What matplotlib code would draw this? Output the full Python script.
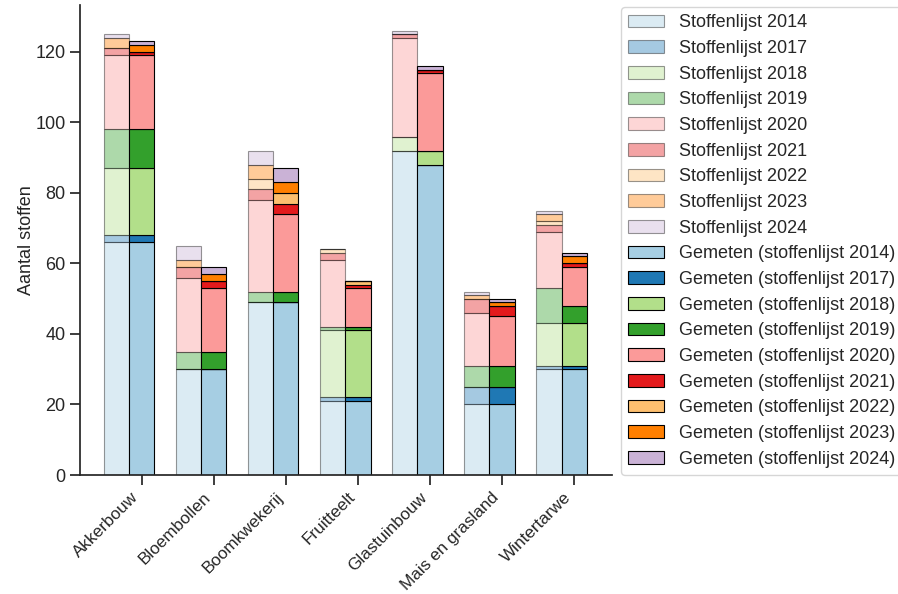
import numpy as np
import matplotlib.pyplot as plt

plt.rcParams['font.family'] = ['Liberation Sans', 'DejaVu Sans']
plt.rcParams['text.color'] = '0.15'
plt.rcParams['axes.labelcolor'] = '0.15'
plt.rcParams['axes.edgecolor'] = '0.15'
plt.rcParams['xtick.color'] = '0.15'
plt.rcParams['ytick.color'] = '0.15'

# Teelten
categories = ['Akkerbouw', 'Bloembollen', 'Boomkwekerij', 'Fruitteelt',
              'Glastuinbouw', 'Mais en grasland', 'Wintertarwe']
years = ['2014', '2017', '2018', '2019', '2020', '2021', '2022', '2023', '2024']

# Aantal stoffen per stoffenlijst (nieuw toegevoegd per jaar)
stoffenlijst_2014 = [66, 30, 49, 21, 92, 20, 30]
stoffenlijst_2017 = [2, 0, 0, 1, 0, 5, 1]
stoffenlijst_2018 = [19, 0, 0, 19, 4, 0, 12]
stoffenlijst_2019 = [11, 5, 3, 1, 0, 6, 10]
stoffenlijst_2020 = [21, 21, 26, 19, 28, 15, 16]
stoffenlijst_2021 = [2, 3, 3, 2, 1, 4, 2]
stoffenlijst_2022 = [0, 0, 3, 1, 0, 0, 1]
stoffenlijst_2023 = [3, 2, 4, 0, 0, 1, 2]
stoffenlijst_2024 = [1, 4, 4, 0, 1, 1, 1]

# Aantal gemeten stoffen per stoffenlijst
gemeten_2014 = [66, 30, 49, 21, 88, 20, 30]
gemeten_2017 = [2, 0, 0, 1, 0, 5, 1]
gemeten_2018 = [19, 0, 0, 19, 4, 0, 12]
gemeten_2019 = [11, 5, 3, 1, 0, 6, 5]
gemeten_2020 = [21, 18, 22, 11, 22, 14, 11]
gemeten_2021 = [1, 2, 3, 1, 1, 3, 1]
gemeten_2022 = [0, 0, 3, 1, 0, 0, 0]
gemeten_2023 = [2, 2, 3, 0, 0, 1, 2]
gemeten_2024 = [1, 2, 4, 0, 1, 1, 1]

stoffenlijst = [stoffenlijst_2014, stoffenlijst_2017, stoffenlijst_2018,
                stoffenlijst_2019, stoffenlijst_2020, stoffenlijst_2021,
                stoffenlijst_2022, stoffenlijst_2023, stoffenlijst_2024]
gemeten = [gemeten_2014, gemeten_2017, gemeten_2018, gemeten_2019,
           gemeten_2020, gemeten_2021, gemeten_2022, gemeten_2023,
           gemeten_2024]

colors = plt.get_cmap('Paired').colors[:9]

fig = plt.figure(figsize=(8.98, 5.94), dpi=100)
ax = fig.add_axes([0.0891, 0.2003, 0.592, 0.7913])

x = np.arange(len(categories))
w = 0.35

handles_s = []
bottom = np.zeros(len(categories))
for yr, vals, c in zip(years, stoffenlijst, colors):
    b = ax.bar(x - w, vals, w, bottom=bottom, color=c, alpha=0.4,
               edgecolor='black', linewidth=0.8,
               label=f'Stoffenlijst {yr}')
    handles_s.append(b)
    bottom += np.array(vals)

handles_g = []
bottom = np.zeros(len(categories))
for yr, vals, c in zip(years, gemeten, colors):
    b = ax.bar(x, vals, w, bottom=bottom, color=c,
               edgecolor='black', linewidth=0.8,
               label=f'Gemeten (stoffenlijst {yr})')
    handles_g.append(b)
    bottom += np.array(vals)

ax.set_xticks(x)
ax.set_xticklabels(categories, rotation=45, ha='right', fontsize=12.3)
ax.set_xlim(-0.855, 6.52)
ax.set_ylim(0, 133.3)
ax.set_ylabel('Aantal stoffen', fontsize=13, labelpad=0)
ax.tick_params(axis='y', labelsize=13)
ax.tick_params(axis='both', direction='out', length=7, width=1.25)

for side in ['top', 'right']:
    ax.spines[side].set_visible(False)
for side in ['left', 'bottom']:
    ax.spines[side].set_linewidth(1.25)

fig.legend(handles=handles_s + handles_g, loc='upper left',
           bbox_to_anchor=(0.6915, 0.988), borderaxespad=0,
           fontsize=13, labelspacing=0.48, frameon=True)

fig.savefig('out.png', dpi=100)
